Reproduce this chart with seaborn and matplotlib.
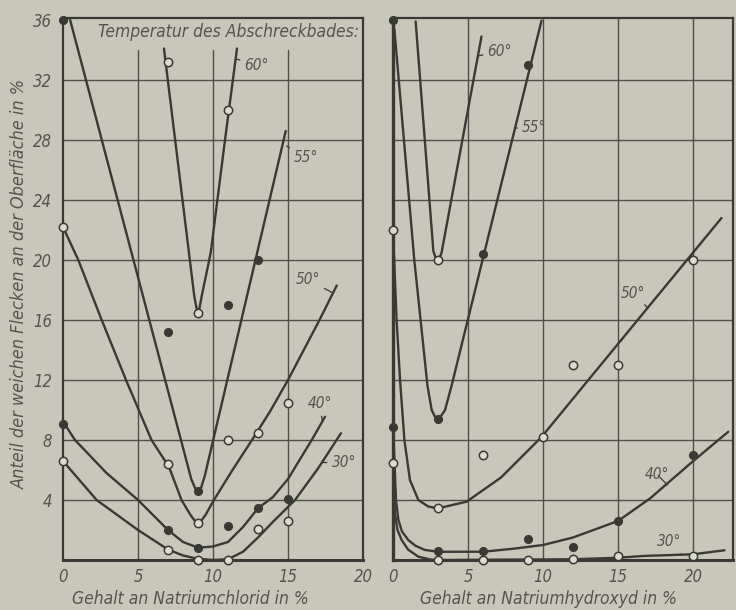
import matplotlib
matplotlib.use("Agg")
import matplotlib.pyplot as plt
import seaborn as sns
import pandas as pd

## colours of the scan
BG = '#c8c7ba'
INK = '#3a3a34'
GRID = '#50504a'
TXT = '#55554e'
OPEN_FACE = '#dcdbd0'

#################### data
# left panel: Natriumchlorid
nacl_x = [0, 7, 9, 11, 13, 15]
nacl_60_px = [7, 9, 11]
nacl_60_py = [33.2, 16.5, 30.0]
nacl_55_px = [0, 7, 9, 11, 13]
nacl_55_py = [36.0, 15.2, 4.6, 17.0, 20.0]
nacl_50 = [22.2, 6.4, 2.5, 8.0, 8.5, 10.5]
nacl_40 = [9.1, 2.0, 0.8, 2.3, 3.5, 4.1]
nacl_30 = [6.6, 0.7, 0.0, 0.0, 2.1, 2.6]

nacl_60_cx = [6.73, 8.75, 8.9, 9.0, 9.1, 9.25, 9.85, 10.8, 11.6]
nacl_60_cy = [34.1, 17.6, 16.8, 16.5, 16.8, 17.6, 20.5, 28.0, 34.1]
nacl_55_cx = [0.45, 8.55, 8.8, 9.0, 9.2, 9.45, 14.85]
nacl_55_cy = [36.1, 5.4, 4.8, 4.6, 4.8, 5.6, 28.6]
nacl_50_cx = [0, 1.02, 2.58, 4.2, 5.9, 7.07, 7.9, 8.5, 8.8, 9.0, 9.2, 9.5, 10.06, 11.3, 12.6, 13.8, 15.0, 17.1, 18.25]
nacl_50_cy = [22.2, 20, 16, 12, 8, 6.2, 4.0, 3.0, 2.6, 2.5, 2.6, 3.0, 4.0, 6.0, 8.0, 9.9, 12.0, 16.0, 18.3]
nacl_40_cx = [0.15, 0.8, 2.9, 5.0, 7.0, 8.0, 9.0, 10.0, 11.0, 12.0, 13.0, 14.0, 15.0, 16.58, 17.47]
nacl_40_cy = [9.0, 8.0, 5.8, 4.0, 2.0, 1.2, 0.82, 0.9, 1.2, 2.2, 3.45, 4.2, 5.4, 8.0, 9.55]
nacl_30_cx = [0, 2.24, 5.0, 7.0, 8.0, 9.0, 10.0, 11.0, 12.0, 13.0, 14.0, 15.47, 17.0, 18.53]
nacl_30_cy = [6.6, 4.0, 2.0, 0.7, 0.3, 0.08, 0.0, 0.05, 0.55, 1.5, 2.55, 4.0, 6.1, 8.45]

# right panel: Natriumhydroxyd
naoh_x = [0, 3, 6, 9, 12, 15, 20]
naoh_60_px = [3]
naoh_60_py = [20.0]
naoh_55_px = [0, 3, 6, 9]
naoh_55_py = [36.0, 9.4, 20.4, 33.0]
naoh_50_px = [0, 3, 6, 10, 12, 15, 20]
naoh_50_py = [22.0, 3.45, 7.0, 8.2, 13.0, 13.0, 20.0]
naoh_40 = [8.9, 0.6, 0.6, 1.4, 0.9, 2.6, 7.0]
naoh_30 = [6.5, 0.0, 0.0, 0.0, 0.05, 0.3, 0.3]

naoh_60_cx = [1.51, 2.69, 2.85, 2.98, 3.1, 3.24, 5.9]
naoh_60_cy = [35.9, 20.6, 20.1, 19.95, 20.1, 20.5, 34.9]
naoh_55_cx = [0.09, 1.42, 2.3, 2.58, 2.8, 2.98, 3.17, 3.47, 3.9, 9.9]
naoh_55_cy = [35.4, 20, 11.6, 10, 9.55, 9.44, 9.55, 10, 11.6, 35.95]
naoh_50_cx = [0.0, 0.13, 0.24, 0.47, 0.76, 1.13, 1.69, 2.36, 2.98, 4.91, 7.2, 9.9, 21.9]
naoh_50_cy = [22.0, 18.7, 16, 12, 8, 5.33, 4.0, 3.56, 3.44, 3.89, 5.5, 8.2, 22.8]
naoh_40_cx = [0.0, 0.1, 0.2, 0.36, 0.6, 1.02, 1.5, 2.13, 3, 6, 8, 10, 12, 15, 17.13, 19.9, 22.35]
naoh_40_cy = [8.9, 6.5, 4.0, 2.67, 1.9, 1.33, 0.95, 0.67, 0.55, 0.55, 0.75, 1.0, 1.5, 2.6, 4.1, 6.5, 8.55]
naoh_30_cx = [0.0, 0.06, 0.13, 0.3, 0.58, 1.0, 1.69, 2.5, 3, 12, 15, 16.7, 20, 22.1]
naoh_30_cy = [6.5, 4.5, 3.1, 2.0, 1.33, 0.7, 0.22, 0.03, 0.0, 0.05, 0.15, 0.27, 0.38, 0.65]

y_ticks = [4, 8, 12, 16, 20, 24, 28, 32, 36]
x_ticks = [0, 5, 10, 15, 20]
y_label = 'Anteil der weichen Flecken an der Oberfläche in %'
x_label_left = 'Gehalt an Natriumchlorid in %'
x_label_right = 'Gehalt an Natriumhydroxyd in %'
title_left = 'Temperatur des Abschreckbades:'
####################

sns.set_theme(style='white')
plt.rcParams['font.family'] = ['DejaVu Sans']
plt.rcParams['font.style'] = 'italic'
plt.rcParams['font.stretch'] = 'condensed'
plt.rcParams['text.color'] = TXT

fig = plt.figure(figsize=(7.36, 6.1), dpi=100, facecolor=BG)
ax1 = fig.add_axes([63/736, 50/610, 300/736, 542/610])
ax2 = fig.add_axes([393/736, 50/610, 340/736, 542/610])
ymax = 542/15


def curve(ax, cx, cy):
    d = pd.DataFrame({'x': cx, 'y': cy})
    sns.lineplot(data=d, x='x', y='y', sort=False, estimator=None, color=INK,
                 lw=1.7, ax=ax, clip_on=False, zorder=4)


def points(ax, px, py, filled):
    d = pd.DataFrame({'x': px, 'y': py})
    sns.scatterplot(data=d, x='x', y='y', marker='o', s=30 if filled else 36,
                    color=INK if filled else OPEN_FACE, edgecolor=INK,
                    linewidth=1.1, ax=ax, clip_on=False, zorder=6)


def frame(ax, xmax, vtop):
    ax.set_facecolor(BG)
    ax.set_xlim(0, xmax)
    ax.set_ylim(0, ymax)
    for v in [5, 10, 15, 20]:
        if v < xmax:
            ax.axvline(v, ymax=vtop, color=GRID, lw=1.0, zorder=1)
    for h in y_ticks[:-1]:
        ax.axhline(h, color=GRID, lw=1.0, zorder=1)
    for s in ax.spines.values():
        s.set_color(INK)
        s.set_linewidth(1.6)
        s.set_visible(True)
    ax.spines['bottom'].set_linewidth(2.2)
    ax.set_xticks(x_ticks)
    ax.set_xticklabels([str(t) for t in x_ticks], fontsize=12, color=TXT)
    ax.tick_params(axis='both', length=0, pad=6)


def tag(ax, txt, xy, xytext, ha='left'):
    ax.annotate(txt, xy=xy, xytext=xytext, ha=ha, va='center', fontsize=11,
                color=TXT, zorder=7,
                arrowprops=dict(arrowstyle='-', color=INK, lw=0.9,
                                shrinkA=1, shrinkB=0))


# left panel
frame(ax1, 20, 34/ymax)
ax1.set_yticks(y_ticks)
ax1.set_yticklabels([str(t) for t in y_ticks], fontsize=12, color=TXT)
ax1.tick_params(axis='y', pad=8)
for cx, cy in [(nacl_60_cx, nacl_60_cy), (nacl_55_cx, nacl_55_cy), (nacl_50_cx, nacl_50_cy),
               (nacl_40_cx, nacl_40_cy), (nacl_30_cx, nacl_30_cy)]:
    curve(ax1, cx, cy)
points(ax1, nacl_60_px, nacl_60_py, False)
points(ax1, nacl_55_px, nacl_55_py, True)
points(ax1, nacl_x, nacl_50, False)
points(ax1, nacl_x, nacl_40, True)
points(ax1, nacl_x, nacl_30, False)
ax1.text(19.7, 35.2, title_left, ha='right', va='center', fontsize=12.5, color=TXT)
tag(ax1, '60°', (11.55, 33.4), (12.1, 33.0))
tag(ax1, '55°', (14.9, 27.6), (15.4, 26.8))
tag(ax1, '50°', (18.0, 17.8), (15.5, 18.7))
tag(ax1, '40°', (17.3, 9.2), (16.3, 10.4))
tag(ax1, '30°', (17.3, 6.5), (17.9, 6.5))

# right panel
frame(ax2, 340/15, 1.0)
ax2.set_yticks(y_ticks)
ax2.set_yticklabels([])
ax2.spines['left'].set_linewidth(2.4)
for cx, cy in [(naoh_60_cx, naoh_60_cy), (naoh_55_cx, naoh_55_cy), (naoh_50_cx, naoh_50_cy),
               (naoh_40_cx, naoh_40_cy), (naoh_30_cx, naoh_30_cy)]:
    curve(ax2, cx, cy)
points(ax2, naoh_60_px, naoh_60_py, False)
points(ax2, naoh_55_px, naoh_55_py, True)
points(ax2, naoh_50_px, naoh_50_py, False)
points(ax2, naoh_x, naoh_40, True)
points(ax2, naoh_x, naoh_30, False)
tag(ax2, '60°', (5.65, 33.6), (6.3, 33.9))
tag(ax2, '55°', (8.1, 28.8), (8.6, 28.8))
tag(ax2, '50°', (17.0, 16.8), (15.2, 17.8))
tag(ax2, '40°', (18.3, 5.0), (16.8, 5.7))
tag(ax2, '30°', (19.2, 0.35), (17.6, 1.2))

# seaborn writes the column names as axis labels: drop them
for ax in (ax1, ax2):
    ax.set_xlabel('')
    ax.set_ylabel('')

fig.text(20/736, 1 - 284/610, y_label, rotation=90, ha='center', va='center',
         fontsize=13, color=TXT)
fig.text(190/736, 1 - 599/610, x_label_left, ha='center', va='center', fontsize=12.5, color=TXT)
fig.text(548/736, 1 - 599/610, x_label_right, ha='center', va='center', fontsize=12.5, color=TXT)

plt.savefig('out.png', dpi=100, facecolor=BG)
plt.close()
